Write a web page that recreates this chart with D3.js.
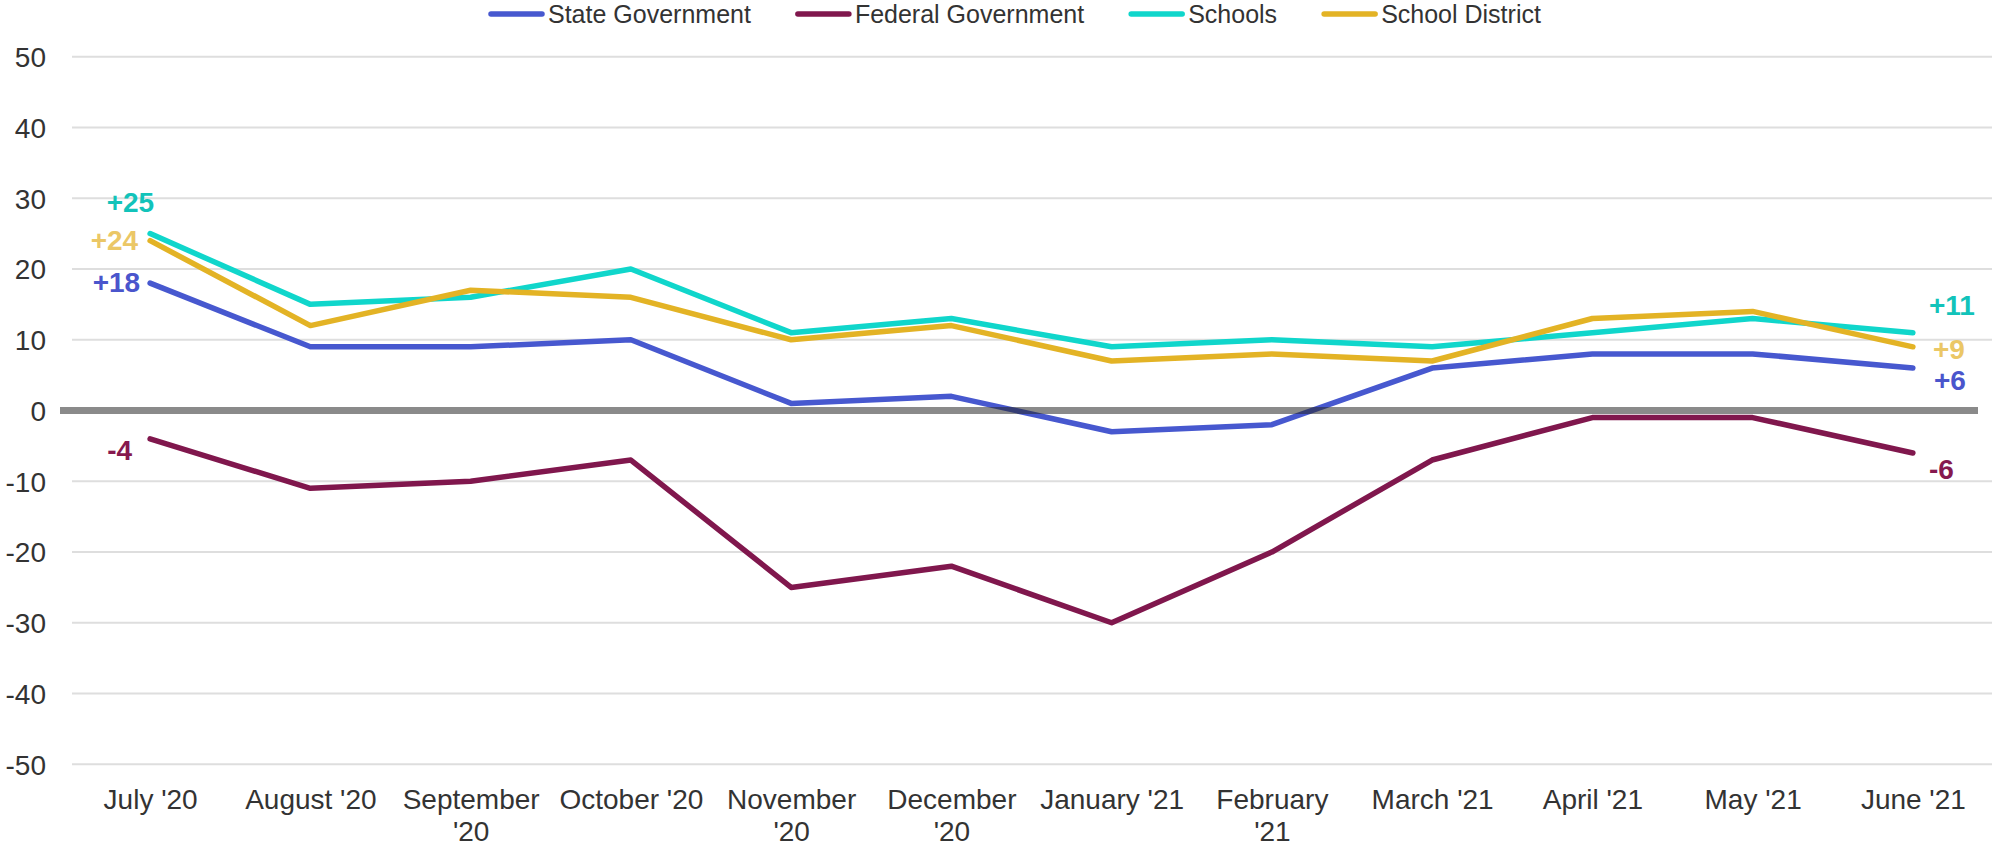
<!DOCTYPE html>
<html>
<head>
<meta charset="utf-8">
<script src="https://cdn.jsdelivr.net/npm/d3@7"></script>
<style>
  html, body { margin: 0; padding: 0; background: #fff; }
  svg { display: block; font-family: Arial, "Liberation Sans", sans-serif; }
</style>
</head>
<body>
<svg id="chart" width="1992" height="847"></svg>
<script>
// ---- data ----
const categories = ["July '20", "August '20", "September\n'20", "October '20", "November\n'20", "December\n'20",
                    "January '21", "February\n'21", "March '21", "April '21", "May '21", "June '21"];
const seriesNames = ["State Government", "Federal Government", "Schools", "School District"];
const stateGovernment   = [18, 9, 9, 10, 1, 2, -3, -2, 6, 8, 8, 6];
const federalGovernment = [-4, -11, -10, -7, -25, -22, -30, -20, -7, -1, -1, -6];
const schools           = [25, 15, 16, 20, 11, 13, 9, 10, 9, 11, 13, 11];
const schoolDistrict    = [24, 12, 17, 16, 10, 12, 7, 8, 7, 13, 14, 9];
const yTicks = [-50, -40, -30, -20, -10, 0, 10, 20, 30, 40, 50];

// ---- styles ----
const colors = {
  "State Government": "#4758CF",
  "Federal Government": "#80174D",
  "Schools": "#10D6CB",
  "School District": "#E3B325"
};
const labelColors = {
  "State Government": "#4A55CC",
  "Federal Government": "#86194F",
  "Schools": "#12C3BA",
  "School District": "#EBC766"
};
// end-label placement (first point, last point)
const labelPlacement = {
  "State Government":   { first: { dx: -10, dy: -1 },  last: { dx: 21, dy: 12 } },
  "Federal Government": { first: { dx: -18, dy: 11 },  last: { dx: 16, dy: 16 } },
  "Schools":            { first: { dx: 4,   dy: -31 }, last: { dx: 16, dy: -27 } },
  "School District":    { first: { dx: -12, dy: 0 },   last: { dx: 20, dy: 2 } }
};

const series = [
  { name: seriesNames[0], values: stateGovernment },
  { name: seriesNames[1], values: federalGovernment },
  { name: seriesNames[2], values: schools },
  { name: seriesNames[3], values: schoolDistrict }
];

const svg = d3.select("#chart");

const x = d3.scalePoint().domain(categories).range([70, 1993]).padding(0.5);
const y = d3.scaleLinear().domain([-50, 50]).range([764.3, 56.7]);

const hyphen = s => String(s).replace("\u2212", "-");
const intFmt = d => hyphen(d3.format("d")(d));
const signFmt = d => hyphen(d3.format("+d")(d));

// gridlines
svg.append("g")
  .selectAll("line")
  .data(yTicks.filter(d => d !== 0))
  .join("line")
  .attr("x1", 72).attr("x2", 1992)
  .attr("y1", d => y(d)).attr("y2", d => y(d))
  .attr("stroke", "#dedede").attr("stroke-width", 2);

// y axis labels
const yAxis = d3.axisLeft(y).tickValues(yTicks).tickSize(0).tickPadding(0).tickFormat(intFmt);
const yg = svg.append("g").attr("transform", "translate(46,0)").call(yAxis);
yg.select(".domain").remove();
yg.selectAll("text")
  .attr("font-size", 28).attr("fill", "#333").attr("font-family", "Arial, 'Liberation Sans', sans-serif")
  .attr("dy", "0.35em");

// x axis labels
const xAxis = d3.axisBottom(x).tickSize(0).tickPadding(0).tickFormat(() => "");
const xg = svg.append("g").call(xAxis);
xg.select(".domain").remove();
xg.selectAll(".tick text").remove();
xg.selectAll(".tick").each(function(d) {
  const t = d3.select(this).append("text")
    .attr("text-anchor", "middle")
    .attr("font-size", 28).attr("fill", "#333")
    .attr("font-family", "Arial, 'Liberation Sans', sans-serif");
  d.split("\n").forEach((line, i) => {
    t.append("tspan").attr("x", 0).attr("y", 809 + i * 32).text(line);
  });
});

// lines
const line = d3.line()
  .x((d, i) => x(categories[i]))
  .y(d => y(d));

svg.append("g")
  .selectAll("path")
  .data(series)
  .join("path")
  .attr("d", d => line(d.values))
  .attr("fill", "none")
  .attr("stroke", d => colors[d.name])
  .attr("stroke-width", 5.5)
  .attr("stroke-linejoin", "round")
  .attr("stroke-linecap", "round");

// zero line on top
svg.append("line")
  .attr("x1", 60).attr("x2", 1978)
  .attr("y1", y(0)).attr("y2", y(0))
  .attr("stroke", "#262626").attr("stroke-opacity", 0.54).attr("stroke-width", 7);

// end labels
const lg = svg.append("g")
  .attr("font-size", 28).attr("font-weight", "bold")
  .attr("font-family", "Arial, 'Liberation Sans', sans-serif");
series.forEach(s => {
  const n = s.values.length;
  const pf = labelPlacement[s.name].first;
  const pl = labelPlacement[s.name].last;
  lg.append("text")
    .attr("x", x(categories[0]) + pf.dx)
    .attr("y", y(s.values[0]) + pf.dy)
    .attr("dy", "0.35em")
    .attr("text-anchor", "end")
    .attr("fill", labelColors[s.name])
    .text(signFmt(s.values[0]));
  lg.append("text")
    .attr("x", x(categories[n - 1]) + pl.dx)
    .attr("y", y(s.values[n - 1]) + pl.dy)
    .attr("dy", "0.35em")
    .attr("text-anchor", "start")
    .attr("fill", labelColors[s.name])
    .text(signFmt(s.values[n - 1]));
});

// legend
const legend = svg.append("g").attr("transform", "translate(489,14)");
let lx = 0;
seriesNames.forEach(name => {
  const g = legend.append("g").attr("transform", `translate(${lx},0)`);
  g.append("line").attr("x1", 2).attr("x2", 53).attr("y1", 0).attr("y2", 0)
    .attr("stroke", colors[name]).attr("stroke-width", 5.5).attr("stroke-linecap", "round");
  const t = g.append("text").attr("x", 59).attr("y", 0).attr("dy", "0.35em")
    .attr("font-size", 25).attr("fill", "#333")
    .attr("font-family", "Arial, 'Liberation Sans', sans-serif")
    .text(name);
  lx += 59 + t.node().getComputedTextLength() + 45;
});
</script>
</body>
</html>
